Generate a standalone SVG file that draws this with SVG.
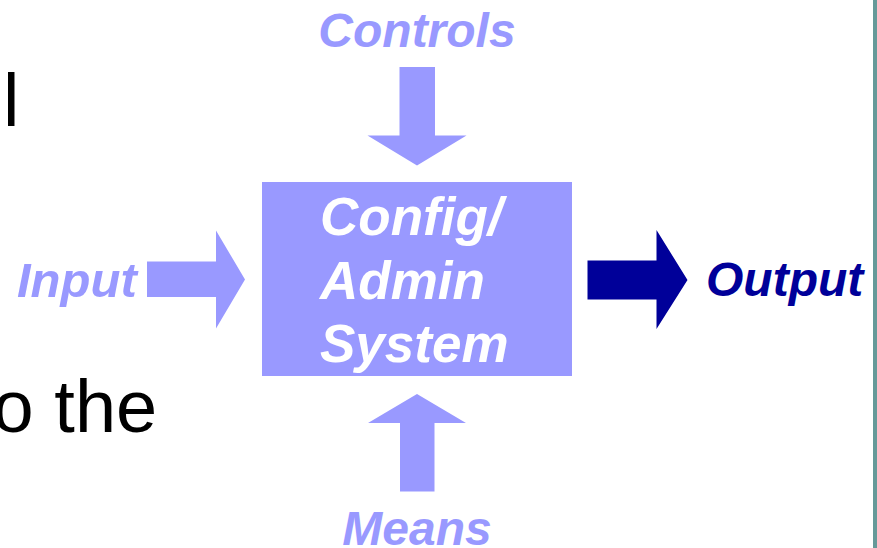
<svg xmlns="http://www.w3.org/2000/svg" width="877" height="548" viewBox="0 0 877 548">
<style>
.lbl{font-family:"Liberation Sans",Arial,sans-serif;font-weight:bold;font-style:italic;font-size:48px;fill:#9999FF}
.box{font-family:"Liberation Sans",Arial,sans-serif;font-weight:bold;font-style:italic;font-size:53px;fill:#FFFFFF}
.body{font-family:"Liberation Sans",Arial,sans-serif;font-size:74px;fill:#000000}
.arr{fill:#9999FF}
</style>
<rect x="0" y="0" width="877" height="548" fill="#FFFFFF"/>
<rect x="873" y="0" width="4" height="548" fill="#669999"/>
<text class="body" x="3" y="126">l</text>
<text class="body" x="-7.4" y="432">o the</text>
<g id="connectors">
<polygon class="arr" points="399.5,67 435,67 435,135.5 466.5,135.5 417,165.5 367.5,135.5 399.5,135.5"/>
<polygon class="arr" points="147,261.5 216,261.5 216,230.5 245,279.5 216,328.5 216,297 147,297"/>
<polygon class="arr" points="400,491.5 434.5,491.5 434.5,423 466,423 417,394 368,423 400,423"/>
<polygon fill="#000099" points="587.5,260.5 656.5,260.5 656.5,230 687.5,280 656.5,329 656.5,299.5 587.5,299.5"/>
</g>
<g id="system">
<rect x="262" y="182" width="310" height="194" fill="#9999FF"/>
<text class="box" x="320" y="235">Config/</text>
<text class="box" x="320" y="298.5">Admin</text>
<text class="box" x="320" y="361.7">System</text>
</g>
<g id="controls"><text class="lbl" x="417" y="46.5" text-anchor="middle">Controls</text></g>
<g id="means"><text class="lbl" x="417" y="545" text-anchor="middle">Means</text></g>
<g id="input"><text class="lbl" x="17" y="296.5" style="font-size:49px">Input</text></g>
<g id="output"><text class="lbl" x="706" y="295.5" style="fill:#000099">Output</text></g>
</svg>
